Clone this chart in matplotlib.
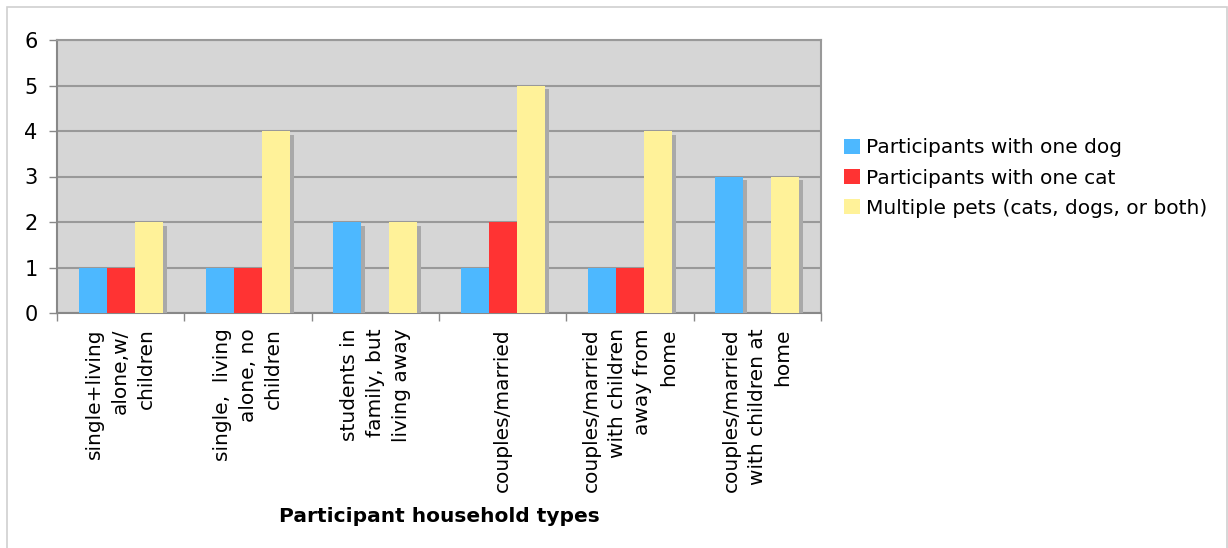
import matplotlib
matplotlib.use("Agg")
import matplotlib.pyplot as plt
import matplotlib.patheffects as pe
from matplotlib.patches import Rectangle
import numpy as np

categories = [
    "single+living\nalone,w/\nchildren",
    "single,  living\nalone, no\nchildren",
    "students in\nfamily, but\nliving away",
    "couples/married",
    "couples/married\nwith children\naway from\nhome",
    "couples/married\nwith children at\nhome",
]
series_names = [
    "Participants with one dog",
    "Participants with one cat",
    "Multiple pets (cats, dogs, or both)",
]
one_dog = [1, 1, 2, 1, 1, 3]
one_cat = [1, 1, 0, 2, 1, 0]
multiple = [2, 4, 2, 5, 4, 3]
colors = ["#4db8ff", "#ff3333", "#fff299"]

fig = plt.figure(figsize=(12.28, 5.48), dpi=100)
ax = fig.add_axes([57 / 1228, 1 - 313 / 548, (821 - 57) / 1228, (313 - 40) / 548])
ax.set_facecolor("#d6d6d6")

x = np.arange(len(categories))
width = 0.22
shadow = [pe.SimplePatchShadow(offset=(2.8, -2.8), shadow_rgbFace="#a9a9a9", alpha=1.0), pe.Normal()]
for i, (vals, name) in enumerate(zip([one_dog, one_cat, multiple], series_names)):
    ax.bar(x + (i - 1) * width, vals, width, color=colors[i], label=name,
           path_effects=shadow, zorder=3)

ax.set_xlim(-0.5, len(categories) - 0.5)
ax.set_ylim(0, 6)
ax.set_yticks(range(7))
ax.yaxis.grid(True, color="#999999", linewidth=1.5, zorder=1)
ax.set_axisbelow(True)

ax.set_xticks(x)
ax.set_xticklabels(categories, rotation=90, multialignment="right", va="top", ha="center",
                   fontsize=14.5, linespacing=1.45)
ax.set_xticks(np.arange(len(categories) + 1) - 0.5, minor=True)
ax.tick_params(axis="x", which="major", length=0, pad=11)
ax.tick_params(axis="x", which="minor", length=6, color="#888888", width=1)
ax.tick_params(axis="y", length=6, color="#888888", width=1, labelsize=15, pad=8)

for side in ["top", "right"]:
    ax.spines[side].set_color("#999999")
    ax.spines[side].set_linewidth(1.5)
ax.spines["left"].set_color("#888888")
ax.spines["left"].set_linewidth(1.5)
ax.spines["bottom"].set_color("#888888")
ax.spines["bottom"].set_linewidth(1.5)

fig.text(439 / 1228, 1 - 516 / 548, "Participant household types", ha="center", va="center",
         fontsize=14.5, fontweight="bold")

handles, labels = ax.get_legend_handles_labels()
leg = fig.legend(handles, labels, loc="center left", bbox_to_anchor=(844 / 1228, 1 - 178 / 548),
                 frameon=False, fontsize=14.5, handlelength=0.8, handleheight=0.8,
                 handletextpad=0.3, labelspacing=0.55, borderpad=0, borderaxespad=0)
for patch in leg.get_patches():
    patch.set_path_effects([])

fig.add_artist(Rectangle((7 / 1228, -0.1), 1220 / 1228, 1.1 - 7 / 548, transform=fig.transFigure,
                         fill=False, edgecolor="#d0d0d0", linewidth=1.2))

fig.savefig("out.png", dpi=100)
